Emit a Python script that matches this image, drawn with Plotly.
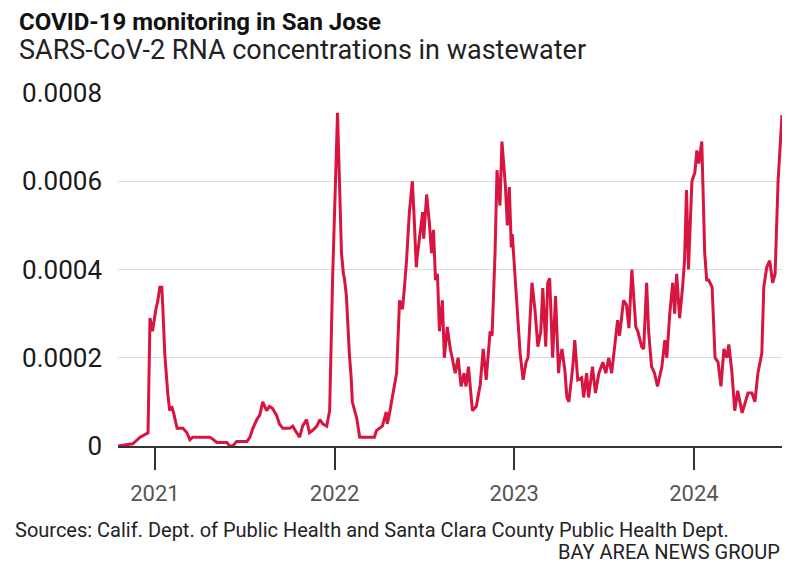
import plotly.graph_objects as go

dates = [
    "2020-10-18", "2020-11-17", "2020-12-02", "2020-12-18", "2020-12-22", "2020-12-27",
    "2021-01-03", "2021-01-07", "2021-01-11", "2021-01-15", "2021-01-17", "2021-01-21",
    "2021-01-27", "2021-01-31", "2021-02-04", "2021-02-08", "2021-02-15", "2021-02-27",
    "2021-03-07", "2021-03-13", "2021-03-19", "2021-04-23", "2021-04-29", "2021-05-07",
    "2021-05-27", "2021-06-02", "2021-06-08", "2021-06-16", "2021-07-07", "2021-07-13",
    "2021-07-19", "2021-07-27", "2021-08-02", "2021-08-08", "2021-08-16", "2021-08-22",
    "2021-08-28", "2021-09-05", "2021-09-11", "2021-09-18", "2021-10-02", "2021-10-08",
    "2021-10-16", "2021-10-22", "2021-10-28", "2021-11-05", "2021-11-11", "2021-11-17",
    "2021-11-26", "2021-12-02", "2021-12-08", "2021-12-16", "2021-12-22", "2021-12-28",
    "2022-01-07", "2022-01-15", "2022-01-19", "2022-01-21", "2022-01-25", "2022-01-27",
    "2022-01-31", "2022-02-04", "2022-02-06", "2022-02-15", "2022-02-21", "2022-02-27",
    "2022-03-23", "2022-03-27", "2022-04-02", "2022-04-08", "2022-04-16", "2022-04-18",
    "2022-04-22", "2022-04-28", "2022-05-07", "2022-05-13", "2022-05-19", "2022-05-23",
    "2022-05-27", "2022-06-02", "2022-06-08", "2022-06-12", "2022-06-16", "2022-06-18",
    "2022-06-22", "2022-06-29", "2022-07-01", "2022-07-07", "2022-07-13", "2022-07-17",
    "2022-07-21", "2022-07-25", "2022-07-29", "2022-08-02", "2022-08-08", "2022-08-12",
    "2022-08-18", "2022-08-24", "2022-08-28", "2022-09-03", "2022-09-09", "2022-09-15",
    "2022-09-21", "2022-09-25", "2022-09-30", "2022-10-08", "2022-10-16", "2022-10-24",
    "2022-10-30", "2022-11-05", "2022-11-13", "2022-11-17", "2022-11-23", "2022-11-27",
    "2022-12-03", "2022-12-07", "2022-12-14", "2022-12-18", "2022-12-22", "2022-12-26",
    "2022-12-28", "2023-01-03", "2023-01-07", "2023-01-13", "2023-01-19", "2023-01-25",
    "2023-01-29", "2023-02-06", "2023-02-12", "2023-02-18", "2023-02-24", "2023-02-28",
    "2023-03-06", "2023-03-10", "2023-03-14", "2023-03-20", "2023-03-26", "2023-04-01",
    "2023-04-03", "2023-04-08", "2023-04-14", "2023-04-18", "2023-04-22", "2023-04-30",
    "2023-05-04", "2023-05-10", "2023-05-18", "2023-05-22", "2023-05-28", "2023-06-01",
    "2023-06-09", "2023-06-15", "2023-06-22", "2023-06-30", "2023-07-06", "2023-07-12",
    "2023-07-18", "2023-07-24", "2023-07-30", "2023-08-03", "2023-08-11", "2023-08-17",
    "2023-08-22", "2023-08-28", "2023-09-01", "2023-09-05", "2023-09-09", "2023-09-17",
    "2023-09-21", "2023-09-27", "2023-10-01", "2023-10-07", "2023-10-13", "2023-10-19",
    "2023-10-28", "2023-11-03", "2023-11-07", "2023-11-13", "2023-11-19", "2023-11-23",
    "2023-11-27", "2023-12-03", "2023-12-09", "2023-12-13", "2023-12-17", "2023-12-21",
    "2023-12-28", "2024-01-03", "2024-01-07", "2024-01-11", "2024-01-17", "2024-01-19",
    "2024-01-23", "2024-01-27", "2024-01-31", "2024-02-07", "2024-02-13", "2024-02-19",
    "2024-02-25", "2024-03-02", "2024-03-08", "2024-03-12", "2024-03-18", "2024-03-24",
    "2024-03-30", "2024-04-08", "2024-04-14", "2024-04-20", "2024-04-28", "2024-05-04",
    "2024-05-10", "2024-05-18", "2024-05-22", "2024-05-28", "2024-06-03", "2024-06-09",
    "2024-06-14", "2024-06-18", "2024-06-20", "2024-06-28",
]

concentration = [
    0.0, 0.000005, 0.00002, 0.00003, 0.00029, 0.00026,
    0.00031, 0.00033, 0.00036, 0.00036, 0.000315, 0.00021,
    0.00012, 0.00008, 0.00009, 0.000075, 0.00004, 0.00004,
    0.00003, 0.000014, 0.00002, 0.00002, 0.000015, 0.000008,
    0.000008, 0.0, 0.0, 0.00001, 0.00001, 0.00002,
    0.00004, 0.00006, 0.00007, 0.0001, 0.00008, 0.00009,
    0.000085, 0.00007, 0.00005, 0.00004, 0.00004, 0.000045,
    0.00003, 0.00002, 0.000045, 0.00006, 0.00003, 0.000035,
    0.000045, 0.00006, 0.00005, 0.000045, 0.00008, 0.00038,
    0.000755, 0.000437, 0.00039, 0.00038, 0.00034, 0.000285,
    0.00021, 0.00015, 0.0001, 0.000063, 0.00002, 0.00002,
    0.00002, 0.000035, 0.00004, 0.000045, 0.000077, 0.00005,
    0.00007, 0.00011, 0.000165, 0.00033, 0.00031, 0.00036,
    0.000417, 0.00053, 0.0006, 0.00051, 0.000405, 0.00043,
    0.00047, 0.00053, 0.00047, 0.00057, 0.0005, 0.000437,
    0.00049, 0.000376, 0.00039, 0.00026, 0.00033, 0.0002,
    0.00027, 0.00022, 0.0002, 0.000165, 0.0002, 0.000135,
    0.000165, 0.000135, 0.00018, 0.00008, 0.00009, 0.00014,
    0.00022, 0.00015, 0.00026, 0.00025, 0.000437, 0.000625,
    0.000545, 0.00069, 0.00059, 0.0005, 0.000587, 0.00045,
    0.00048, 0.000376, 0.00031, 0.00021, 0.00015, 0.00019,
    0.0002, 0.00037, 0.00031, 0.000225, 0.00026, 0.000358,
    0.000225, 0.00037, 0.00038, 0.0002, 0.00034, 0.000165,
    0.00019, 0.00022, 0.00017, 0.00011, 0.0001, 0.00018,
    0.00024, 0.00015, 0.000155, 0.00011, 0.000165, 0.00011,
    0.00018, 0.00012, 0.000165, 0.00019, 0.000165, 0.0002,
    0.000165, 0.00022, 0.000285, 0.00025, 0.00033, 0.00032,
    0.000267, 0.0004, 0.00033, 0.00027, 0.00026, 0.000225,
    0.00022, 0.00037, 0.00026, 0.00018, 0.000165, 0.000135,
    0.00018, 0.00024, 0.0002, 0.0003, 0.00037, 0.0003,
    0.00039, 0.00029, 0.00036, 0.00042, 0.00058, 0.0004,
    0.0006, 0.00062, 0.00067, 0.00064, 0.00069, 0.00058,
    0.000437, 0.000376, 0.000376, 0.00036, 0.0002, 0.00019,
    0.000135, 0.00022, 0.0002, 0.00023, 0.00017, 0.00008,
    0.000125, 0.000075, 0.0001, 0.00012, 0.00012, 0.0001,
    0.000165, 0.00021, 0.00036, 0.000405, 0.00042, 0.00037,
    0.00039, 0.00054, 0.0006, 0.00075,
]

y_tick_vals = [0, 0.0002, 0.0004, 0.0006, 0.0008]
y_tick_text = ["0", "0.0002", "0.0004", "0.0006", "0.0008"]
x_tick_vals = ["2021-01-01", "2022-01-01", "2023-01-01", "2024-01-01"]
x_tick_text = ["2021", "2022", "2023", "2024"]

title = "COVID-19 monitoring in San Jose"
subtitle = "SARS-CoV-2 RNA concentrations in wastewater"
source = "Sources: Calif. Dept. of Public Health and Santa Clara County Public Health Dept."
credit = "BAY AREA NEWS GROUP"

FONT = "Roboto, Liberation Sans, sans-serif"

# The page body has an 8px margin, so the figure is drawn 8px in from the window edge.
OFF = 8
W, H = 794 - 2 * OFF, 574 - 2 * OFF
L, T = 118 - OFF, 93 - OFF
R = W - (782 - OFF)
B = H - (446 - OFF)
pw, ph = W - L - R, H - T - B


def px(x):
    return (x - OFF - L) / pw


def py(y):
    return (H - B - (y - OFF)) / ph


fig = go.Figure()
fig.add_trace(go.Scatter(
    x=dates, y=concentration, mode="lines",
    line=dict(color="#d81440", width=3),
    hoverinfo="x+y", cliponaxis=False,
))

fig.update_layout(
    width=W, height=H,
    margin=dict(l=L, r=R, t=T, b=B, pad=0),
    paper_bgcolor="white", plot_bgcolor="white",
    showlegend=False,
    font=dict(family=FONT, color="#333"),
    xaxis=dict(
        type="date",
        range=["2020-10-18", "2024-06-28"],
        tickvals=x_tick_vals, ticktext=x_tick_text,
        ticks="outside", ticklen=22, tickwidth=1.5, tickcolor="#333",
        showline=True, linecolor="#333", linewidth=1.5,
        showgrid=False, zeroline=False,
        tickfont=dict(size=22, color="#555"),
        ticklabelstandoff=5,
    ),
    yaxis=dict(
        range=[0, 0.0008],
        tickvals=y_tick_vals, ticktext=y_tick_text,
        showgrid=True, gridcolor="#dddddd", gridwidth=1,
        zeroline=False, showline=False, ticks="",
        tickfont=dict(size=26, color="#1a1a1a"),
        ticklabelstandoff=15,
    ),
    annotations=[
        dict(text="<b>" + title + "</b>", x=px(17), y=py(22), xref="paper", yref="paper",
             xanchor="left", yanchor="middle", showarrow=False,
             font=dict(size=24, color="#111", family=FONT)),
        dict(text=subtitle, x=px(17), y=py(50), xref="paper", yref="paper",
             xanchor="left", yanchor="middle", showarrow=False,
             font=dict(size=27, color="#222", family=FONT)),
        dict(text=source, x=px(13), y=py(530), xref="paper", yref="paper",
             xanchor="left", yanchor="middle", showarrow=False,
             font=dict(size=20, color="#222", family=FONT)),
        dict(text=credit, x=px(781), y=py(552), xref="paper", yref="paper",
             xanchor="right", yanchor="middle", showarrow=False, borderpad=0,
             font=dict(size=20, color="#222", family=FONT)),
    ],
)

fig.write_html("out.html")
